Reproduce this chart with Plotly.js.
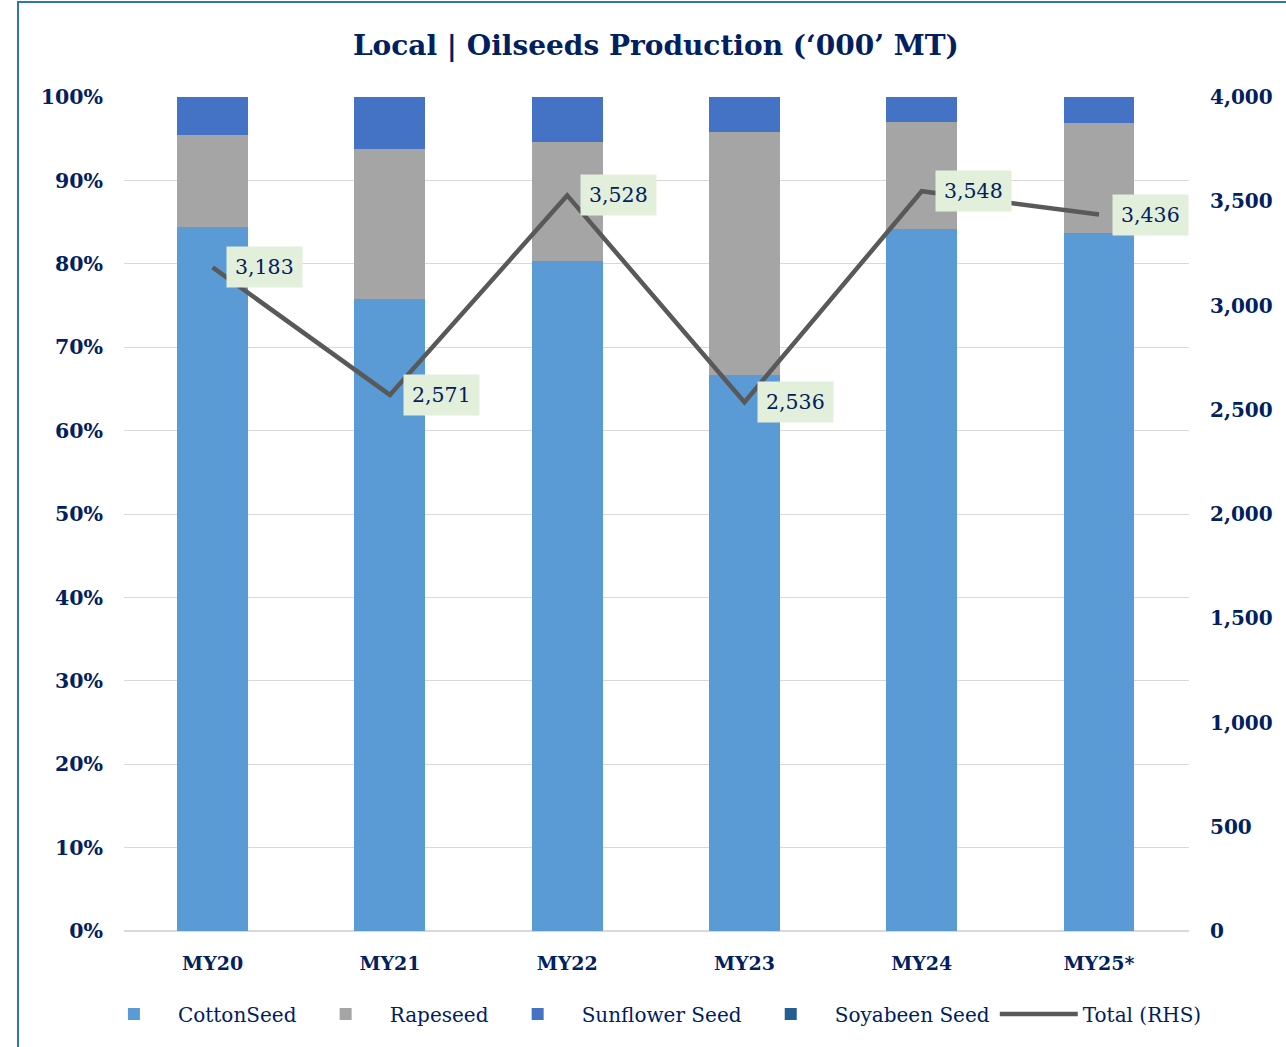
<!DOCTYPE html>
<html>
<head>
<meta charset="utf-8">
<script src="https://cdn.plot.ly/plotly-3.0.1.min.js"></script>
<style>
html,body{margin:0;padding:0;overflow:hidden;background:#fff;}
#chart{position:absolute;left:0;top:0;width:1286px;height:1047px;}
#frame{position:absolute;left:17px;top:1px;width:1400px;height:1200px;border-left:2px solid #2E75B6;border-top:2px solid #2E75B6;pointer-events:none;}
</style>
</head>
<body>
<div id="chart"></div>
<div id="frame"></div>
<script>
const categories = ["MY20","MY21","MY22","MY23","MY24","MY25*"];
const cottonSeed = [84.4, 75.8, 80.3, 66.7, 84.2, 83.7];
const rapeseed = [11.0, 18.0, 14.3, 29.1, 12.8, 13.2];
const sunflowerSeed = [4.6, 6.2, 5.4, 4.2, 3.0, 3.1];
const soyabeenSeed = [0, 0, 0, 0, 0, 0];
const totalRHS = [3183, 2571, 3528, 2536, 3548, 3436];
const leftTicks = [0,10,20,30,40,50,60,70,80,90,100];
const rightTicks = [0,500,1000,1500,2000,2500,3000,3500,4000];

const navy = "#002060";
const FONT = "DejaVu Serif, Liberation Serif, serif";

const traces = [
  {type:"bar", name:"CottonSeed", x:categories, y:cottonSeed, marker:{color:"#5B9BD5"}, hoverinfo:"skip"},
  {type:"bar", name:"Rapeseed", x:categories, y:rapeseed, marker:{color:"#A5A5A5"}, hoverinfo:"skip"},
  {type:"bar", name:"Sunflower Seed", x:categories, y:sunflowerSeed, marker:{color:"#4472C4"}, hoverinfo:"skip"},
  {type:"bar", name:"Soyabeen Seed", x:categories, y:soyabeenSeed, marker:{color:"#255E91"}, hoverinfo:"skip"},
  {type:"scatter", mode:"lines", name:"Total (RHS)", x:categories, y:totalRHS, yaxis:"y2",
   line:{color:"#595959", width:4.5}, hoverinfo:"skip"}
];

const annotations = categories.map((c,i)=>({
  x:c, y:totalRHS[i], xref:"x", yref:"y2",
  text: totalRHS[i].toLocaleString("en-US"),
  showarrow:false, xanchor:"left", yanchor:"middle", xshift:13,
  bgcolor:"#E2EFDA", borderpad:8,
  font:{family:FONT, size:20.5, color:navy}
}));

const layout = {
  width:1286, height:1047,
  margin:{l:124, r:97, t:97, b:116},
  paper_bgcolor:"rgba(0,0,0,0)", plot_bgcolor:"#fff",
  barmode:"stack", bargap:0.6,
  title:{text:"<b>Local | Oilseeds Production (‘000’ MT)</b>", x:0.51, xref:"container", xanchor:"center",
         y:1-45/1047, yref:"container", yanchor:"middle",
         font:{family:FONT, size:28, color:navy}},
  xaxis:{tickfont:{family:FONT, size:19, color:navy, weight:"bold"}, showgrid:false, showline:false, ticks:"",
         ticklabelstandoff:19},
  yaxis:{range:[0,100], tickvals:leftTicks, ticktext:leftTicks.map(v=>v+"%"),
         tickfont:{family:FONT, size:20.5, color:navy, weight:"bold"},
         showgrid:true, gridcolor:"#D9D9D9", gridwidth:1, zeroline:true, zerolinecolor:"#D9D9D9", zerolinewidth:2,
         showline:false, ticks:"", ticklabelstandoff:20},
  yaxis2:{range:[0,4000], overlaying:"y", side:"right", tickvals:rightTicks,
          ticktext:rightTicks.map(v=>v.toLocaleString("en-US")),
          tickfont:{family:FONT, size:20, color:navy, weight:"bold"},
          showgrid:false, zeroline:false, showline:false, ticks:"", ticklabelstandoff:20},
  legend:{orientation:"h", x:-0.032, xanchor:"left", y:(931-1014)/834, yanchor:"middle", traceorder:"normal",
          font:{family:FONT, size:20, color:navy}, itemwidth:78},
  annotations:annotations,
  showlegend:true
};

Plotly.newPlot("chart", traces, layout, {displayModeBar:false, staticPlot:true});
</script>
</body>
</html>
